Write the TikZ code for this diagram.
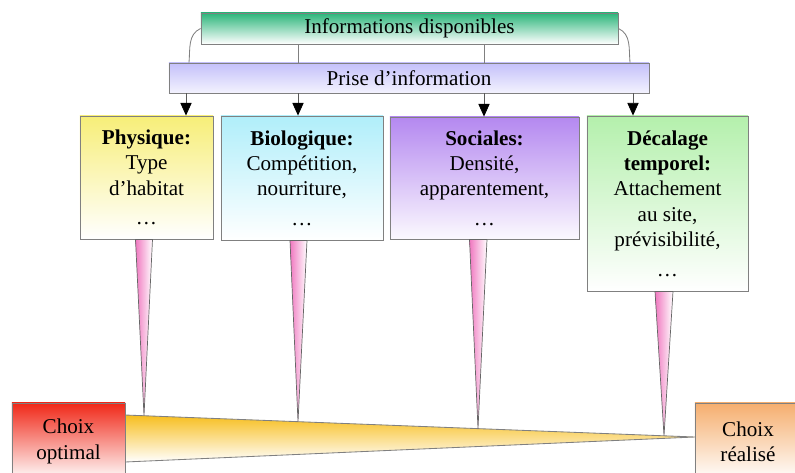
\documentclass[tikz,border=0pt]{standalone}
\usepackage{fontspec}
\setmainfont{Liberation Serif}
\usepackage{xcolor}
\usetikzlibrary{arrows.meta}

\definecolor{infogreen}{HTML}{2BB57A}
\definecolor{priselilac}{HTML}{C4C0FA}
\definecolor{physyellow}{HTML}{F7EE78}
\definecolor{biocyan}{HTML}{B0EEFA}
\definecolor{socpurple}{HTML}{B488F0}
\definecolor{decgreen}{HTML}{B4F0AC}
\definecolor{optred}{HTML}{F02818}
\definecolor{realorange}{HTML}{F5AE6E}
\definecolor{wedgeyellow}{HTML}{F7BE1E}
\definecolor{spikepink}{HTML}{F078C0}

\begin{document}
\begin{tikzpicture}[x=0.025cm, y=-0.025cm,
    box/.style={draw=gray, line width=0.6pt, align=center, inner sep=2pt,
      font=\fontsize{15}{18}\selectfont, bottom color=white},
    arr/.style={-{Triangle[width=8pt,length=9pt,color=black]}, line width=0.6pt, draw=gray!70!black},
    link/.style={draw=gray, line width=0.6pt},
    spike/.style={draw=gray!80!black, line width=0.5pt, left color=spikepink, right color=white}]
        \useasboundingbox (0,0) rectangle (795,473);
        \clip (0,0) rectangle (795,473);

        % yellow wedge between the two choices
        \coordinate (wa) at (125,415);
        \coordinate (wb) at (125,462);
        \coordinate (wt) at (695,437);
        \draw[link, top color=wedgeyellow, bottom color=white] (wa) -- (wt) -- (wb) -- cycle;

        % boxes
        \node[box, top color=infogreen, minimum width=10.425cm, minimum height=0.775cm] (info) at (409.5,28.5) {Informations disponibles};
        \node[box, top color=priselilac, bottom color=priselilac!20!white, minimum width=12cm, minimum height=0.75cm] (prise) at (409,78) {Prise d'information};

        \node[box, top color=physyellow, minimum width=3.325cm, minimum height=3.075cm] (phys) at (146.5,177.5)
          {\textbf{Physique:}\\ Type\\ d'habitat\\[3pt] \dots};
        \node[box, top color=biocyan, minimum width=4.05cm, minimum height=3.1cm] (bio) at (302,178)
          {\textbf{Biologique:}\\ Compétition,\\ nourriture,\\[3pt] \dots};
        \node[box, top color=socpurple, bottom color=socpurple!5!white, minimum width=4.725cm, minimum height=3.05cm] (soc) at (484.5,178)
          {\textbf{Sociales:}\\ Densité,\\ apparentement,\\[3pt] \dots};
        \node[box, top color=decgreen, minimum width=4.025cm, minimum height=4.375cm] (dec) at (667.5,203.5)
          {\textbf{Décalage}\\ \textbf{temporel:}\\ Attachement\\ au site,\\ prévisibilité,\\[3pt] \dots};

        \node[box, top color=optred, minimum width=2.825cm, minimum height=1.925cm] (opt) at (68.5,441.5) {Choix\\ optimal};
        \node[box, top color=realorange, minimum width=2.65cm, minimum height=1.925cm] (real) at (748,441.5) {Choix\\ réalisé};

        % from the information to its intake
        \coordinate (xl) at (189,0);
        \coordinate (xr) at (630,0);
        \coordinate (x1) at (186,0);
        \coordinate (x2) at (298,0);
        \coordinate (x3) at (484,0);
        \coordinate (x4) at (633,0);
        \draw[link] (info.west) to[out=205, in=85] (xl |- prise.north);
        \draw[link] (info.east) to[out=-25, in=95] (xr |- prise.north);
        \draw[link] (x2 |- info.south) -- (x2 |- prise.north);
        \draw[link] (x3 |- info.south) -- (x3 |- prise.north);

        \foreach \c/\b in {x1/phys, x2/bio, x3/soc, x4/dec}
          \draw[arr] (\c |- prise.south) -- (\c |- \b.north);

        % spikes down to the wedge
        \foreach \b/\l/\r/\m in {phys/135.5/152.5/144, bio/290/307/298, soc/469.5/487/478, dec/655/673/664}
          \draw[spike] (\b.south -| \l,0) -- (\m,{415+22*(\m-125)/570}) -- (\b.south -| \r,0) -- cycle;
      \end{tikzpicture}
\end{document}
